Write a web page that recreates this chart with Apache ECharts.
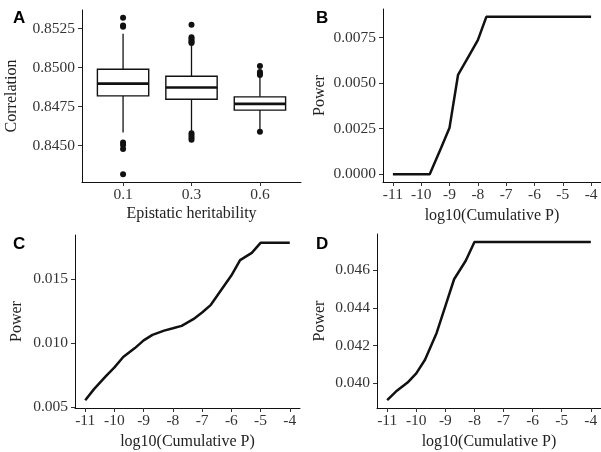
<!DOCTYPE html>
<html>
<head>
<meta charset="utf-8">
<script src="https://cdn.jsdelivr.net/npm/echarts@6/dist/echarts.min.js"></script>
<style>
  html, body { margin: 0; padding: 0; background: #fff; }
  #chart { width: 601px; height: 452px; }
</style>
</head>
<body>
<div id="chart"></div>
<script>
// panel A: correlation by epistatic heritability
const heritability = ['0.1', '0.3', '0.6']
// [lower whisker, q1, median, q3, upper whisker]
const boxStats = [
  [0.84585, 0.84819, 0.84898, 0.84990, 0.85218],
  [0.84589, 0.84798, 0.84873, 0.84945, 0.85154],
  [0.84606, 0.84728, 0.84768, 0.84813, 0.84962]
]
const outliers01 = [0.85320, 0.85271, 0.85262, 0.84521, 0.84505, 0.84478, 0.84317]
const outliers03 = [0.85276, 0.85195, 0.85185, 0.85175, 0.85165, 0.85158, 0.84579, 0.84565, 0.84550, 0.84538]
const outliers06 = [0.85011, 0.84972, 0.84962, 0.84953, 0.84590]
const corrTicks = [0.845, 0.8475, 0.85, 0.8525]

// panels B-D: power vs log10(cumulative P)
const logP = [-11, -10.7, -10.3, -10, -9.7, -9.3, -9, -8.7, -8.3, -8, -7.7, -7.3, -7, -6.7, -6.3, -6, -5.7, -5.3, -5, -4.7, -4.3, -4]
const powerB = [0, 0, 0, 0, 0, 0.00143, 0.00255, 0.00544, 0.00653, 0.00735, 0.00863, 0.00863, 0.00863, 0.00863, 0.00863, 0.00863, 0.00863, 0.00863, 0.00863, 0.00863, 0.00863, 0.00863]
const powerC = [0.00554, 0.0064, 0.0074, 0.0081, 0.0089, 0.0096, 0.0102, 0.01063, 0.01096, 0.01114, 0.01133, 0.01185, 0.01237, 0.01297, 0.01428, 0.01525, 0.01645, 0.01702, 0.0178, 0.0178, 0.0178, 0.0178]
const powerD = [0.03911, 0.03956, 0.04004, 0.04053, 0.04125, 0.04267, 0.04409, 0.04552, 0.0465, 0.0475, 0.0475, 0.0475, 0.0475, 0.0475, 0.0475, 0.0475, 0.0475, 0.0475, 0.0475, 0.0475, 0.0475, 0.0475]
const logTicks = [-11, -10, -9, -8, -7, -6, -5, -4]
const powerTicksB = [0, 0.0025, 0.005, 0.0075]
const powerTicksC = [0.005, 0.01, 0.015]
const powerTicksD = [0.04, 0.042, 0.044, 0.046]

const serif = 'Liberation Serif'
const ink = '#111'

const chart = echarts.init(document.getElementById('chart'), null, { renderer: 'canvas' })

function xAxisBase(gridIndex, name, gap) {
  return {
    gridIndex: gridIndex,
    type: 'value',
    name: name,
    nameLocation: 'middle',
    nameGap: gap,
    nameTextStyle: { fontFamily: serif, fontSize: 16, color: '#222' },
    splitLine: { show: false },
    axisLine: { show: true, onZero: false, lineStyle: { color: ink, width: 1 } },
    axisTick: { show: true, length: 4, lineStyle: { color: '#333' } },
    axisLabel: { fontFamily: serif, fontSize: 15.5, color: '#333', margin: 5 }
  }
}

function yAxisBase(gridIndex, min, max, ticks, digits, gap) {
  return {
    gridIndex: gridIndex,
    type: 'value',
    min: min,
    max: max,
    name: gridIndex === 0 ? 'Correlation' : 'Power',
    nameLocation: 'middle',
    nameGap: gap,
    nameTextStyle: { fontFamily: serif, fontSize: 16, color: '#222' },
    splitLine: { show: false },
    axisLine: { show: true, onZero: false, lineStyle: { color: ink, width: 1 } },
    axisTick: { show: true, length: 4, customValues: ticks, lineStyle: { color: '#333' } },
    axisLabel: {
      fontFamily: serif, fontSize: 15.5, color: '#333', margin: 7,
      customValues: ticks,
      formatter: (v) => v.toFixed(digits)
    }
  }
}

function logXAxis(gridIndex) {
  const ax = xAxisBase(gridIndex, 'log10(Cumulative P)', 26)
  ax.min = -11.35
  ax.max = -3.65
  ax.axisTick.customValues = logTicks
  ax.axisLabel.customValues = logTicks
  ax.axisLabel.formatter = (v) => String(v)
  return ax
}

const xA = xAxisBase(0, 'Epistatic heritability', 24)
xA.min = 0.4
xA.max = 3.6
xA.axisTick.customValues = [1, 2, 3]
xA.axisLabel.customValues = [1, 2, 3]
xA.axisLabel.formatter = (v) => heritability[Math.round(v) - 1]

function renderBox(params, api) {
  const x = api.value(0)
  const lo = api.coord([x, api.value(1)])
  const q1 = api.coord([x, api.value(2)])
  const med = api.coord([x, api.value(3)])
  const q3 = api.coord([x, api.value(4)])
  const hi = api.coord([x, api.value(5)])
  const half = api.size([0.75, 0])[0] / 2
  const thin = { stroke: ink, lineWidth: 1.3 }
  return {
    type: 'group',
    children: [
      { type: 'line', shape: { x1: lo[0], y1: lo[1], x2: q1[0], y2: q1[1] }, style: thin },
      { type: 'line', shape: { x1: q3[0], y1: q3[1], x2: hi[0], y2: hi[1] }, style: thin },
      { type: 'rect', shape: { x: q3[0] - half, y: q3[1], width: half * 2, height: q1[1] - q3[1] },
        style: { fill: '#fff', stroke: ink, lineWidth: 1.4 } },
      { type: 'line', shape: { x1: med[0] - half, y1: med[1], x2: med[0] + half, y2: med[1] },
        style: { stroke: ink, lineWidth: 2.6 } }
    ]
  }
}

function powerSeries(idx, values) {
  return {
    type: 'line',
    xAxisIndex: idx,
    yAxisIndex: idx,
    data: logP.map((x, i) => [x, values[i]]),
    showSymbol: false,
    symbol: 'none',
    lineStyle: { color: ink, width: 2.5 },
    z: 3,
    markLine: {
      silent: true,
      symbol: 'none',
      label: { show: false },
      lineStyle: { color: '#444', width: 0.8, type: [6, 3, 1, 3] },
      data: [{ yAxis: Math.max(...values) }]
    }
  }
}

const outlierPoints = []
outliers01.forEach((v) => outlierPoints.push([1, v]))
outliers03.forEach((v) => outlierPoints.push([2, v]))
outliers06.forEach((v) => outlierPoints.push([3, v]))

const letter = (text, left, top) => ({
  type: 'text', left: left, top: top,
  style: { text: text, font: 'bold 17px "Liberation Sans"', fill: '#000' }
})

chart.setOption({
  animation: false,
  backgroundColor: '#fff',
  grid: [
    { left: 82, top: 10, width: 219, height: 172 },
    { left: 383, top: 9, width: 219, height: 173 },
    { left: 75, top: 235, width: 225, height: 173 },
    { left: 377, top: 234, width: 225, height: 174 }
  ],
  xAxis: [xA, logXAxis(1), logXAxis(2), logXAxis(3)],
  yAxis: [
    yAxisBase(0, 0.84267, 0.8537, corrTicks, 4, 62),
    yAxisBase(1, -0.00043, 0.00906, powerTicksB, 4, 55),
    yAxisBase(2, 0.00493, 0.01841, powerTicksC, 3, 50),
    yAxisBase(3, 0.03869, 0.04792, powerTicksD, 3, 49)
  ],
  graphic: [
    letter('A', 13, 10),
    letter('B', 316, 10),
    letter('C', 13, 236),
    letter('D', 316, 236)
  ],
  series: [
    {
      type: 'custom',
      xAxisIndex: 0,
      yAxisIndex: 0,
      renderItem: renderBox,
      encode: { x: 0, y: [1, 2, 3, 4, 5] },
      data: boxStats.map((s, i) => [i + 1].concat(s))
    },
    {
      type: 'scatter',
      xAxisIndex: 0,
      yAxisIndex: 0,
      symbolSize: 6,
      itemStyle: { color: ink, opacity: 1 },
      data: outlierPoints
    },
    powerSeries(1, powerB),
    powerSeries(2, powerC),
    powerSeries(3, powerD)
  ]
})
</script>
</body>
</html>
